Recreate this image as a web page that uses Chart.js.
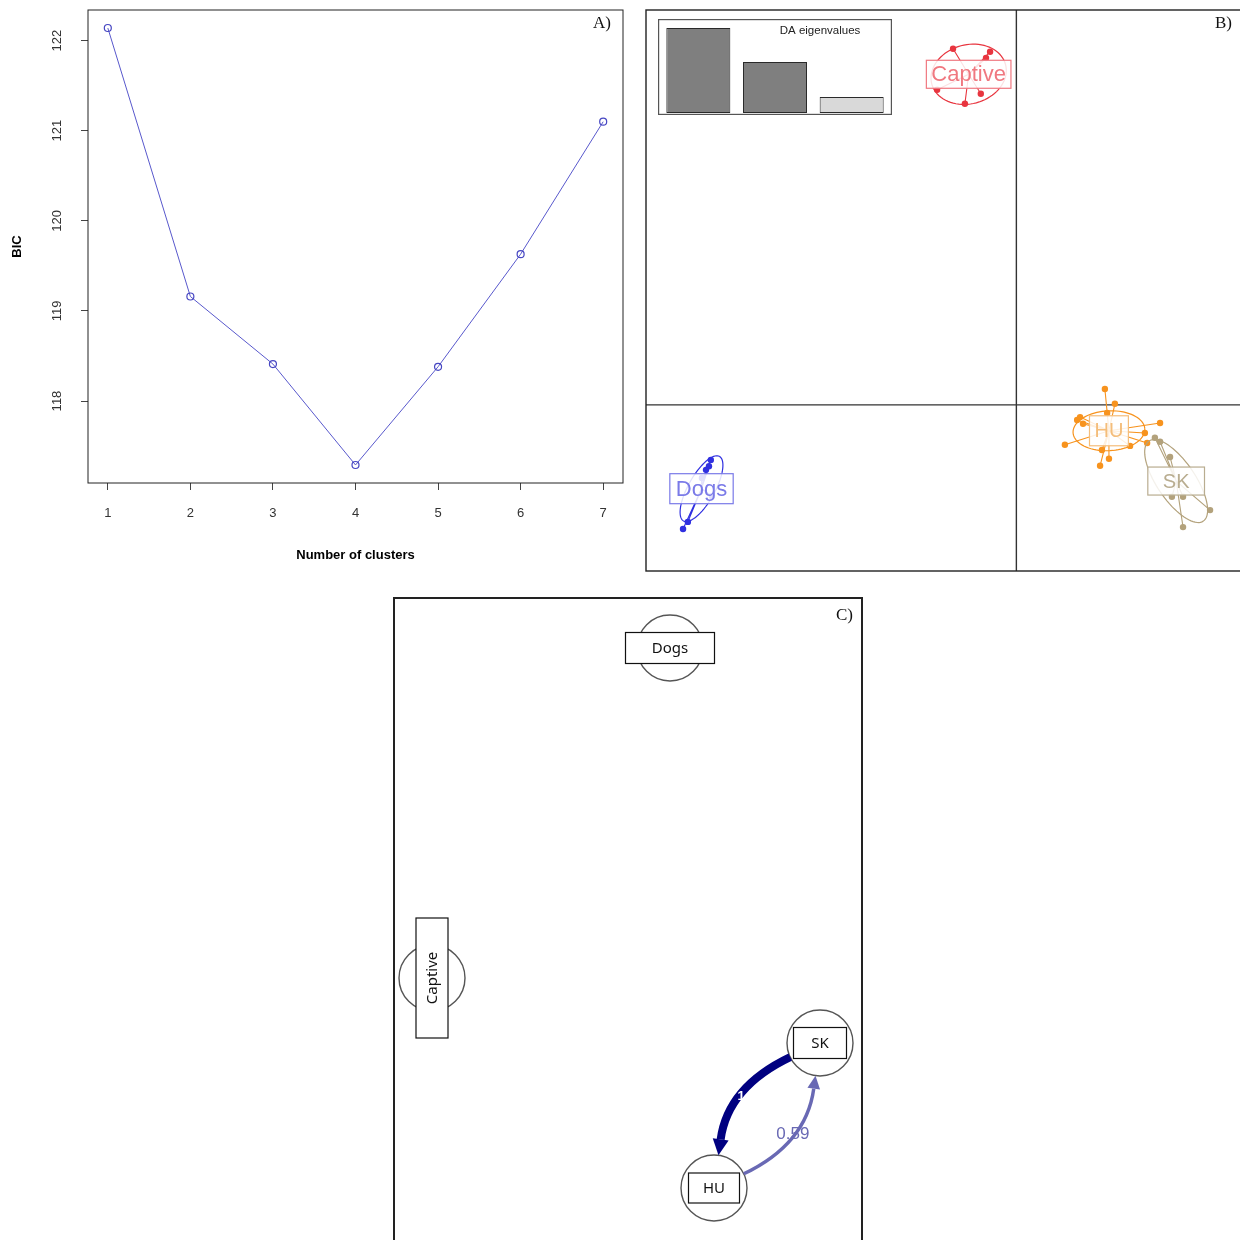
<!DOCTYPE html>
<html>
<head>
<meta charset="utf-8">
<script src="https://cdn.jsdelivr.net/npm/chart.js@4.4.1/dist/chart.umd.min.js"></script>
<style>
  html, body { margin: 0; padding: 0; background: #fff; width: 1240px; height: 1240px; overflow: hidden; }
  canvas { position: absolute; display: block; }
  #bic { left: 0; top: 0; }
  #dapc { left: 640px; top: 0; }
  #eig { left: 658px; top: 19px; }
  #net { left: 390px; top: 590px; }
</style>
</head>
<body>
<canvas id="bic" width="640" height="580"></canvas>
<canvas id="dapc" width="610" height="580"></canvas>
<canvas id="eig" width="234" height="96"></canvas>
<canvas id="net" width="480" height="720"></canvas>
<script>
// A) BIC by number of clusters
const clusters = [1, 2, 3, 4, 5, 6, 7];
const bicValues = [122.14, 119.16, 118.41, 117.29, 118.38, 119.63, 121.10];
const bicTicks = [118, 119, 120, 121, 122];

// B) DAPC scatter (LD1 / LD2)
const groupNames = ["Captive", "Dogs", "HU", "SK"];
const captiveLD1 = [-1.71, -0.71, -0.82, -2.14, -1.39, -0.96];
const captiveLD2 = [9.65, 9.57, 9.40, 8.54, 8.16, 8.43];
const dogsLD1 = [-8.25, -8.38, -8.49, -8.22, -8.87, -9.00, -8.30];
const dogsLD2 = [-1.49, -1.76, -1.98, -2.47, -3.17, -3.36, -1.66];
const huLD1 = [2.39, 2.66, 2.45, 1.64, 1.72, 3.88, 3.47, 3.53, 1.31, 2.31, 2.26, 2.50, 3.07, 1.80];
const huLD2 = [0.43, 0.03, -0.22, -0.41, -0.33, -0.49, -0.76, -1.03, -1.08, -1.22, -1.65, -1.46, -1.11, -0.51];
const skLD1 = [3.74, 3.88, 4.15, 4.20, 4.50, 5.23, 4.50];
const skLD2 = [-0.89, -1.00, -1.41, -2.49, -2.49, -2.85, -3.31];
// inertia ellipses (semi axes in LD units, angle in degrees)
const ellipseA = [1.03, 1.00, 0.97, 1.31];
const ellipseB = [0.80, 0.36, 0.54, 0.52];
const ellipseAngle = [15, 61, 3, -56];
// inset: DA eigenvalues
const eigenLabels = ["1", "2", "3"];
const eigenValues = [85, 51, 16];

// C) migration network
const nodeNames = ["Dogs", "Captive", "SK", "HU"];
const nodeX = [2.76, 0.38, 4.26, 3.20];
const nodeY = [5.92, 2.62, 1.97, 0.52];
const edgeFrom = ["SK", "HU"];
const edgeTo = ["HU", "SK"];
const edgeWeight = [1, 0.59];

// styles
const SANS = '"Liberation Sans", Arial, sans-serif';
const SERIF = '"Liberation Serif", "Times New Roman", serif';
const groupColors = ["#e8353f", "#2f2fe0", "#f7931e", "#b3a27c"];
const labelColors = ["#f07880", "#7a7ae8", "#f4bd7a", "#b9ad90"];
const labelSizes = [22, 22, 20, 20];
const labelPadX = [5, 6, 5, 15];
const labelPadY = [3, 4, 5, 4];
const nodeBoxW = [89, 32, 53, 51];
const nodeBoxH = [31, 120, 31, 30];
const NODE_R = 33;
const CURVE = 0.27;

function panelFrame(letter, dx, dy, width) {
  return {
    id: "frame" + letter,
    afterDraw(chart) {
      const { ctx, chartArea: a } = chart;
      ctx.save();
      ctx.strokeStyle = "#222";
      ctx.lineWidth = width;
      ctx.strokeRect(a.left, a.top, a.right - a.left, a.bottom - a.top);
      ctx.fillStyle = "#111";
      ctx.font = "17px " + SERIF;
      ctx.textAlign = "right";
      ctx.textBaseline = "alphabetic";
      ctx.fillText(letter, a.right - dx, a.top + dy);
      ctx.restore();
    }
  };
}

// ---------- A ----------
new Chart(document.getElementById("bic"), {
  type: "scatter",
  data: {
    datasets: [{
      data: clusters.map((c, i) => ({ x: c, y: bicValues[i] })),
      showLine: true,
      borderColor: "#5858cc",
      borderWidth: 1,
      pointRadius: 3.5,
      pointBorderWidth: 1.2,
      pointBackgroundColor: "rgba(0,0,0,0)",
      pointBorderColor: "#4646c2"
    }]
  },
  options: {
    responsive: false,
    animation: false,
    events: [],
    layout: { autoPadding: false, padding: { left: 0, top: 10, right: 17, bottom: 0 } },
    plugins: { legend: { display: false }, tooltip: { enabled: false } },
    scales: {
      x: {
        type: "linear", min: 0.76, max: 7.24,
        afterBuildTicks: s => { s.ticks = clusters.map(v => ({ value: v })); },
        afterFit: s => { s.height = 97; s.paddingLeft = 0; s.paddingRight = 0; },
        border: { display: false },
        grid: { drawOnChartArea: false, tickLength: 7, color: "#444" },
        ticks: { padding: 16, color: "#333", font: { family: SANS, size: 13 }, maxRotation: 0, autoSkip: false },
        title: { display: true, text: "Number of clusters", color: "#000",
          font: { family: SANS, size: 13, weight: "bold" }, padding: { top: 0, bottom: 17 } }
      },
      y: {
        min: 117.09, max: 122.34,
        afterBuildTicks: s => { s.ticks = bicTicks.map(v => ({ value: v })); },
        afterFit: s => { s.width = 88; s.paddingTop = 0; s.paddingBottom = 0; },
        border: { display: false },
        grid: { drawOnChartArea: false, tickLength: 7, color: "#444" },
        ticks: { padding: 13, color: "#333", font: { family: SANS, size: 13 },
          minRotation: 90, maxRotation: 90, crossAlign: "center" },
        title: { display: true, text: "BIC", color: "#000",
          font: { family: SANS, size: 13, weight: "bold" }, padding: { top: 10, bottom: 0 } }
      }
    }
  },
  plugins: [panelFrame("A)", 12, 18, 1)]
});

// ---------- B ----------
const groupLD1 = [captiveLD1, dogsLD1, huLD1, skLD1];
const groupLD2 = [captiveLD2, dogsLD2, huLD2, skLD2];
const centroids = groupLD1.map((xs, g) => ({
  x: xs.reduce((s, v) => s + v, 0) / xs.length,
  y: groupLD2[g].reduce((s, v) => s + v, 0) / xs.length
}));

const starSets = groupNames.map((name, g) => ({
  label: name,
  data: groupLD1[g].flatMap((x, i) => [centroids[g], { x, y: groupLD2[g][i] }]),
  showLine: true,
  borderColor: groupColors[g],
  borderWidth: 1.1,
  pointRadius: c => (c.dataIndex % 2 ? 3.2 : 0),
  pointBackgroundColor: groupColors[g],
  pointBorderColor: groupColors[g],
  pointBorderWidth: 0
}));

new Chart(document.getElementById("dapc"), {
  type: "scatter",
  data: { datasets: starSets },
  options: {
    responsive: false,
    animation: false,
    events: [],
    layout: { autoPadding: false, padding: { left: 6, top: 10, right: 4, bottom: 9 } },
    plugins: { legend: { display: false }, tooltip: { enabled: false } },
    scales: {
      x: { min: -10, max: 6.2, display: false },
      y: { min: -4.5, max: 10.7, display: false }
    }
  },
  plugins: [{
    id: "dapcDecor",
    beforeDatasetsDraw(chart) {
      const { ctx, chartArea: a, scales: { x, y } } = chart;
      ctx.save();
      ctx.strokeStyle = "#333";
      ctx.lineWidth = 1.4;
      ctx.beginPath();
      ctx.moveTo(x.getPixelForValue(0), a.top);
      ctx.lineTo(x.getPixelForValue(0), a.bottom);
      ctx.moveTo(a.left, y.getPixelForValue(0));
      ctx.lineTo(a.right, y.getPixelForValue(0));
      ctx.stroke();
      ctx.restore();
    },
    afterDatasetsDraw(chart) {
      const { ctx, scales: { x, y } } = chart;
      ctx.save();
      groupNames.forEach((name, g) => {
        const c = centroids[g];
        const th = ellipseAngle[g] * Math.PI / 180;
        ctx.strokeStyle = groupColors[g];
        ctx.lineWidth = 1.2;
        ctx.beginPath();
        for (let k = 0; k <= 80; k++) {
          const t = k / 80 * Math.PI * 2;
          const ex = ellipseA[g] * Math.cos(t), ey = ellipseB[g] * Math.sin(t);
          const px = x.getPixelForValue(c.x + ex * Math.cos(th) - ey * Math.sin(th));
          const py = y.getPixelForValue(c.y + ex * Math.sin(th) + ey * Math.cos(th));
          if (k === 0) ctx.moveTo(px, py); else ctx.lineTo(px, py);
        }
        ctx.stroke();
      });
      groupNames.forEach((name, g) => {
        const px = x.getPixelForValue(centroids[g].x);
        const py = y.getPixelForValue(centroids[g].y);
        ctx.font = labelSizes[g] + "px " + SANS;
        const w = ctx.measureText(name).width + 2 * labelPadX[g];
        const h = labelSizes[g] + 2 * labelPadY[g];
        ctx.fillStyle = "rgba(255,255,255,0.85)";
        ctx.fillRect(px - w / 2, py - h / 2, w, h);
        ctx.strokeStyle = labelColors[g];
        ctx.lineWidth = 1.2;
        ctx.strokeRect(px - w / 2, py - h / 2, w, h);
        ctx.fillStyle = labelColors[g];
        ctx.textAlign = "center";
        ctx.textBaseline = "middle";
        ctx.fillText(name, px, py + 1);
      });
      ctx.restore();
    }
  }, panelFrame("B)", 14, 18, 1.4)]
});

// inset eigenvalue barplot
new Chart(document.getElementById("eig"), {
  type: "bar",
  data: {
    labels: eigenLabels,
    datasets: [{
      data: eigenValues,
      backgroundColor: ["#7f7f7f", "#7f7f7f", "#d9d9d9"],
      borderColor: "#2a2a2a",
      borderWidth: 1,
      borderSkipped: false,
      barPercentage: 0.835,
      categoryPercentage: 1
    }]
  },
  options: {
    responsive: false,
    animation: false,
    events: [],
    layout: { autoPadding: false, padding: { left: 2, right: 2, top: 0, bottom: 2 } },
    plugins: { legend: { display: false }, tooltip: { enabled: false } },
    scales: {
      x: { display: false },
      y: { display: false, min: 0, max: 94 }
    }
  },
  plugins: [{
    id: "eigFrame",
    beforeDraw(chart) {
      const { ctx, width, height } = chart;
      ctx.save();
      ctx.fillStyle = "#fff";
      ctx.fillRect(0, 0, width, height);
      ctx.restore();
    },
    afterDraw(chart) {
      const { ctx, width, height } = chart;
      ctx.save();
      ctx.strokeStyle = "#555";
      ctx.lineWidth = 1.2;
      ctx.strokeRect(0.6, 0.6, width - 1.2, height - 1.2);
      ctx.fillStyle = "#222";
      ctx.font = "11.5px " + SANS;
      ctx.textAlign = "center";
      ctx.textBaseline = "middle";
      ctx.fillText("DA eigenvalues", 162, 12);
      ctx.restore();
    }
  }]
});

// ---------- C ----------
function edgeColor(w) {
  const r = Math.round(255 * (1 - w));
  const b = Math.round(128 * w + 255 * (1 - w));
  return `rgb(${r},${r},${b})`;
}

new Chart(document.getElementById("net"), {
  type: "scatter",
  data: {
    datasets: [{
      data: nodeNames.map((n, i) => ({ x: nodeX[i], y: nodeY[i] })),
      pointRadius: NODE_R,
      pointBackgroundColor: "#fff",
      pointBorderColor: "#555",
      pointBorderWidth: 1.4
    }]
  },
  options: {
    responsive: false,
    animation: false,
    events: [],
    layout: { autoPadding: false, padding: { left: 4, top: 8, right: 8, bottom: 0 } },
    plugins: { legend: { display: false }, tooltip: { enabled: false } },
    scales: {
      x: { min: 0, max: 4.68, display: false },
      y: { min: -0.70, max: 6.42, display: false }
    }
  },
  plugins: [{
    id: "netDecor",
    afterDatasetsDraw(chart) {
      const { ctx, scales: { x, y } } = chart;
      const pos = name => {
        const i = nodeNames.indexOf(name);
        return { x: x.getPixelForValue(nodeX[i]), y: y.getPixelForValue(nodeY[i]) };
      };
      const unit = (dx, dy) => { const l = Math.hypot(dx, dy); return { x: dx / l, y: dy / l }; };
      ctx.save();
      edgeFrom.forEach((from, k) => {
        const a = pos(from), b = pos(edgeTo[k]), w = edgeWeight[k];
        const mx = (a.x + b.x) / 2, my = (a.y + b.y) / 2;
        const dx = b.x - a.x, dy = b.y - a.y;
        const cx = mx - dy * CURVE, cy = my + dx * CURVE;
        const ua = unit(cx - a.x, cy - a.y), ub = unit(cx - b.x, cy - b.y);
        const s = { x: a.x + ua.x * NODE_R, y: a.y + ua.y * NODE_R };
        const e = { x: b.x + ub.x * NODE_R, y: b.y + ub.y * NODE_R };
        const t = unit(e.x - cx, e.y - cy);
        const headLen = 9 + 7 * w, headW = 4 + 4 * w;
        const base = { x: e.x - t.x * headLen, y: e.y - t.y * headLen };
        const col = edgeColor(w);
        ctx.strokeStyle = col;
        ctx.fillStyle = col;
        ctx.lineWidth = 1 + 7 * w * w;
        ctx.lineCap = "butt";
        ctx.beginPath();
        ctx.moveTo(s.x, s.y);
        ctx.quadraticCurveTo(cx, cy, base.x, base.y);
        ctx.stroke();
        ctx.beginPath();
        ctx.moveTo(e.x, e.y);
        ctx.lineTo(base.x - t.y * headW, base.y + t.x * headW);
        ctx.lineTo(base.x + t.y * headW, base.y - t.x * headW);
        ctx.closePath();
        ctx.fill();
        const lx = 0.25 * s.x + 0.5 * cx + 0.25 * e.x;
        const ly = 0.25 * s.y + 0.5 * cy + 0.25 * e.y;
        ctx.textAlign = "center";
        ctx.textBaseline = "middle";
        if (w >= 1) {
          ctx.fillStyle = "#fff";
          ctx.font = "bold 13px " + SANS;
        } else {
          ctx.fillStyle = col;
          ctx.font = "17px " + SANS;
        }
        ctx.fillText(String(w), lx, ly);
      });
      nodeNames.forEach((name, i) => {
        const p = pos(name);
        const bw = nodeBoxW[i], bh = nodeBoxH[i];
        ctx.fillStyle = "#fff";
        ctx.fillRect(p.x - bw / 2, p.y - bh / 2, bw, bh);
        ctx.strokeStyle = "#111";
        ctx.lineWidth = 1.2;
        ctx.strokeRect(p.x - bw / 2, p.y - bh / 2, bw, bh);
        ctx.fillStyle = "#111";
        ctx.font = '15px "Noto Sans", sans-serif';
        ctx.textAlign = "center";
        ctx.textBaseline = "middle";
        ctx.save();
        ctx.translate(p.x, p.y);
        if (bh > bw) ctx.rotate(-Math.PI / 2);
        ctx.fillText(name, 0, 1);
        ctx.restore();
      });
      ctx.restore();
    }
  }, panelFrame("C)", 9, 22, 2)]
});
</script>
</body>
</html>
